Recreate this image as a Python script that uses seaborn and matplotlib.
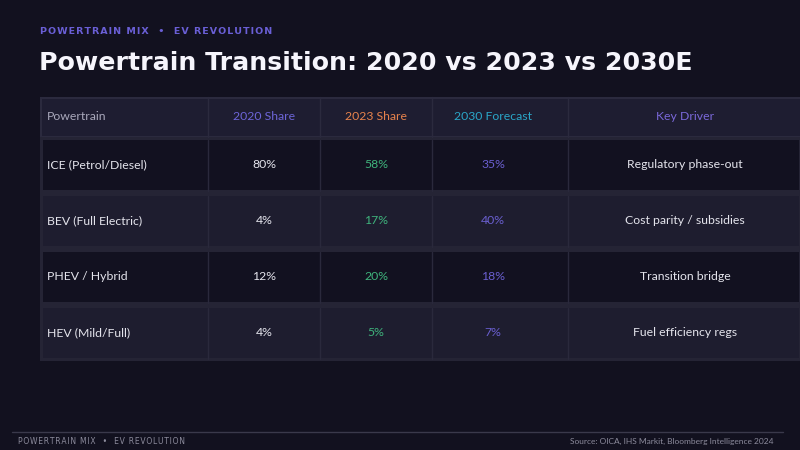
import numpy as np
import pandas as pd
import matplotlib.pyplot as plt
import seaborn as sns
from matplotlib.colors import ListedColormap

sns.set_style('dark')
plt.rcParams['font.family'] = ['Lato', 'DejaVu Sans']

# table content
powertrains = ['ICE (Petrol/Diesel)', 'BEV (Full Electric)', 'PHEV / Hybrid', 'HEV (Mild/Full)']
share_2020 = [80, 4, 12, 4]
share_2023 = [58, 17, 20, 5]
forecast_2030 = [35, 40, 18, 7]
drivers = ['Regulatory phase-out', 'Cost parity / subsidies', 'Transition bridge', 'Fuel efficiency regs']
headers = ['Powertrain', '2020 Share', '2023 Share', '2030 Forecast', 'Key Driver']

bg = '#12111f'
header_col = ['#a9a8bb', '#6d65d8', '#e8834c', '#2aa6c8', '#7a68d9']
val_col = ['#e4e4ec', '#e4e4ec', '#3fb37c', '#6a5fd0', '#e4e4ec']

fig = plt.figure(figsize=(8, 4.5), dpi=100, facecolor=bg)

# header band
hx = fig.add_axes([40 / 800, 1 - 137 / 450, 762 / 800, 40 / 450])
sns.heatmap(np.array([[0]]), ax=hx, cmap=ListedColormap(['#1e1d31']), cbar=False,
            linewidths=1, linecolor='#2b2a3e', xticklabels=False, yticklabels=False)
hx.axis('off')

# body rows, alternating shade
shade = pd.DataFrame({'s': [0, 1, 0, 1]}, index=powertrains)
bx = fig.add_axes([40 / 800, 1 - 361 / 450, 762 / 800, 224 / 450])
sns.heatmap(shade, ax=bx, cmap=ListedColormap(['#121120', '#1e1d2f']), cbar=False,
            linewidths=3, linecolor='#252435', xticklabels=False, yticklabels=False)
bx.axis('off')

# overlay axes in pixel coordinates for lines and text
ax = fig.add_axes([0, 0, 1, 1], zorder=5)
ax.set_xlim(0, 800)
ax.set_ylim(450, 0)
ax.patch.set_alpha(0)
ax.axis('off')

col_edges = [208, 320, 432, 568]
for x in col_edges:
    ax.plot([x, x], [97, 137], color='#2b2a3e', lw=1)
    for r in range(4):
        y0 = 140 + r * 56
        ax.plot([x, x], [y0, y0 + 51], color='#2a293c', lw=1)

col_x = [47, 264, 376, 493, 685]
for i, h in enumerate(headers):
    ax.text(col_x[i], 116, h, color=header_col[i], fontsize=8.8,
            ha='left' if i == 0 else 'center', va='center')

for r in range(4):
    y = 165 + r * 56
    cells = [powertrains[r], f'{share_2020[r]}%', f'{share_2023[r]}%',
             f'{forecast_2030[r]}%', drivers[r]]
    for i, c in enumerate(cells):
        ax.text(col_x[i], y, c, color=val_col[i], fontsize=8.8,
                ha='left' if i == 0 else 'center', va='center')

# titles
spaced = '\u200a'.join('POWERTRAIN MIX  \u2022  EV REVOLUTION')
ax.text(40, 31, spaced, color='#6a5fd6', fontsize=6.8, fontweight='bold',
        ha='left', va='center', family=['DejaVu Sans'])
ax.text(39, 63, 'Powertrain Transition: 2020 vs 2023 vs 2030E', color='#f6f5fc',
        fontsize=18.2, fontweight='bold', ha='left', va='center', family=['DejaVu Sans'])

# footer
ax.plot([12, 783], [432, 432], color='#3a394b', lw=1)
ax.text(18, 441, '\u200a'.join('POWERTRAIN MIX  \u2022  EV REVOLUTION'), color='#8c8b9c',
        fontsize=5.5, ha='left', va='center', family=['DejaVu Sans'])
ax.text(774, 441, 'Source: OICA, IHS Markit, Bloomberg Intelligence 2024', color='#8c8b9c',
        fontsize=6, ha='right', va='center')

fig.savefig('out.png', dpi=100, facecolor=bg)
